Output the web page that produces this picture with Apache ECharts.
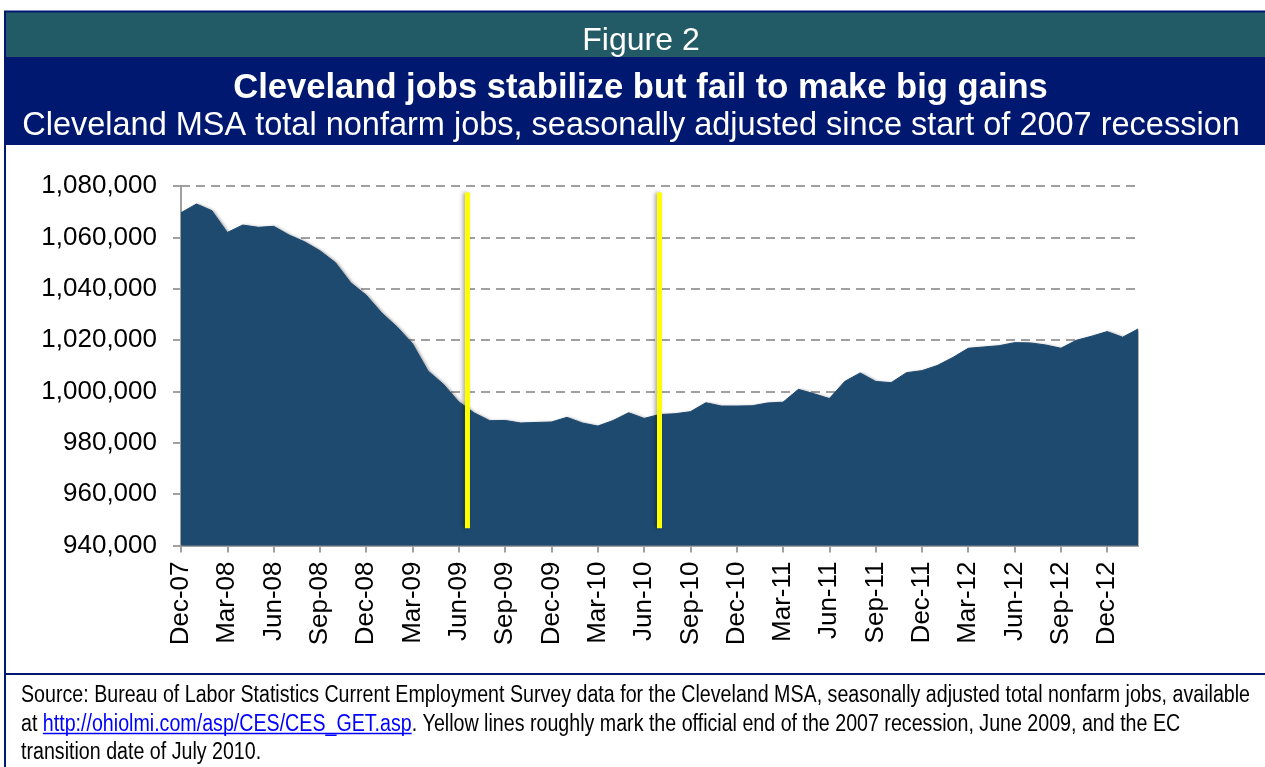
<!DOCTYPE html>
<html>
<head>
<meta charset="utf-8">
<script src="https://cdn.jsdelivr.net/npm/echarts@6/dist/echarts.min.js"></script>
<style>
  html, body { margin: 0; padding: 0; background: #ffffff; }
  #chart { width: 1265px; height: 767px; }
</style>
</head>
<body>
<div id="chart"></div>
<script>
// Month labels, Dec-07 through Feb-13
const months = [
  'Dec-07',
  'Jan-08','Feb-08','Mar-08','Apr-08','May-08','Jun-08','Jul-08','Aug-08','Sep-08','Oct-08','Nov-08','Dec-08',
  'Jan-09','Feb-09','Mar-09','Apr-09','May-09','Jun-09','Jul-09','Aug-09','Sep-09','Oct-09','Nov-09','Dec-09',
  'Jan-10','Feb-10','Mar-10','Apr-10','May-10','Jun-10','Jul-10','Aug-10','Sep-10','Oct-10','Nov-10','Dec-10',
  'Jan-11','Feb-11','Mar-11','Apr-11','May-11','Jun-11','Jul-11','Aug-11','Sep-11','Oct-11','Nov-11','Dec-11',
  'Jan-12','Feb-12','Mar-12','Apr-12','May-12','Jun-12','Jul-12','Aug-12','Sep-12','Oct-12','Nov-12','Dec-12',
  'Jan-13','Feb-13'
];

// Cleveland MSA total nonfarm jobs, seasonally adjusted
const jobs = [
  1069600,
  1073000, 1070400, 1061900, 1064800, 1063900, 1064300, 1060900, 1058300, 1054800, 1050200, 1042300, 1037500,
  1030600, 1025100, 1018600, 1008000, 1002800, 995900, 991600, 988600, 988700, 987700, 987900, 988100,
  989900, 987700, 986500, 988700, 991700, 989500, 991000, 991300, 992100, 995600, 994300, 994300,
  994400, 995500, 995800, 1000800, 999100, 997200, 1003900, 1007200, 1003900, 1003400, 1007300, 1008100,
  1010100, 1013200, 1016800, 1017300, 1017800, 1019000, 1018900, 1018100, 1016800, 1019900, 1021500, 1023300,
  1021100, 1024300
];

// Value axis range and step
const yMin = 940000;
const yMax = 1080000;
const yStep = 20000;

// Yellow markers: end of the 2007 recession (June 2009) and the EC transition (July 2010),
// given as month positions counted from Dec-07, plus their vertical extent in jobs
const markerMonths = [18.56, 31.0];
const markerLow = 946700;
const markerHigh = 1077500;

// Text
const figureLabel = 'Figure 2';
const titleText = 'Cleveland jobs stabilize but fail to make big gains';
const subtitleText = 'Cleveland MSA total nonfarm jobs, seasonally adjusted since start of 2007 recession';
const sourceLine1 = 'Source: Bureau of Labor Statistics Current Employment Survey data for the Cleveland MSA, seasonally adjusted total nonfarm jobs, available';
const sourceLine2a = 'at ';
const sourceLink = 'http://ohiolmi.com/asp/CES/CES_GET.asp';
const sourceLine2b = '. Yellow lines roughly mark the official end of the 2007 recession, June 2009, and the EC';
const sourceLine3 = 'transition date of July 2010.';

const FONT = '"Liberation Sans", Arial, Helvetica, sans-serif';
const NAVY = '#00186F';
const TEAL = '#225A66';
const AREA = '#1F4A70';
const AXIS_GREY = '#A0A0A0';

// Footer is set in a condensed face: measure the regular face and squeeze it horizontally
const measureCtx = document.createElement('canvas').getContext('2d');
function textWidth(str, size) {
  measureCtx.font = size + 'px "Liberation Sans"';
  return measureCtx.measureText(str).width;
}
const footSize = 23;
const footScale = 1229 / textWidth(sourceLine1, footSize);
const linkStart = textWidth(sourceLine2a, footSize);
const linkWidth = textWidth(sourceLink, footSize);

const chart = echarts.init(document.getElementById('chart'), null, { renderer: 'canvas' });

const markerSeries = markerMonths.map(function (m) {
  return {
    type: 'line',
    xAxisIndex: 1,
    symbol: 'none',
    silent: true,
    z: 5,
    lineStyle: {
      color: '#FFFF00',
      width: 5,
      cap: 'butt',
      shadowColor: 'rgba(0,0,0,0.35)',
      shadowBlur: 4,
      shadowOffsetX: -2
    },
    data: [[m, markerLow], [m, markerHigh]]
  };
});

const option = {
  animation: false,
  backgroundColor: '#ffffff',
  grid: { left: 181, right: 127, top: 186, bottom: 221.5, containLabel: false },
  xAxis: [
    {
      type: 'category',
      data: months,
      boundaryGap: false,
      axisLine: { show: true, lineStyle: { color: AXIS_GREY, width: 2 } },
      axisTick: { show: true, interval: 2, length: 7, lineStyle: { color: AXIS_GREY, width: 2 } },
      axisLabel: {
        interval: 2,
        rotate: 90,
        margin: 16,
        color: '#000000',
        fontFamily: FONT,
        fontSize: 26
      },
      splitLine: { show: false }
    },
    {
      type: 'value',
      min: 0,
      max: months.length - 1,
      show: false
    }
  ],
  yAxis: {
    type: 'value',
    min: yMin,
    max: yMax,
    interval: yStep,
    axisLine: { show: true, lineStyle: { color: AXIS_GREY, width: 2 } },
    axisTick: { show: true, length: 8, lineStyle: { color: AXIS_GREY, width: 2 } },
    axisLabel: {
      margin: 24,
      color: '#000000',
      fontFamily: FONT,
      fontSize: 26,
      formatter: function (v) { return v.toLocaleString('en-US'); }
    },
    splitLine: {
      show: true,
      lineStyle: { color: AXIS_GREY, width: 2, type: [9, 6] }
    }
  },
  series: [
    {
      type: 'line',
      data: jobs,
      symbol: 'none',
      silent: true,
      z: 3,
      lineStyle: { color: AREA, width: 1 },
      areaStyle: {
        color: AREA,
        opacity: 1,
        origin: 'start',
        shadowColor: 'rgba(0,0,0,0.35)',
        shadowBlur: 3,
        shadowOffsetX: 2,
        shadowOffsetY: 0
      }
    }
  ].concat(markerSeries),
  graphic: [
    // header bands
    { type: 'rect', shape: { x: 5, y: 12, width: 1262, height: 45 }, style: { fill: TEAL }, z: 1 },
    { type: 'rect', shape: { x: 5, y: 57, width: 1262, height: 88 }, style: { fill: NAVY }, z: 1 },
    // frame: top, left, footer divider
    { type: 'line', shape: { x1: 4, y1: 11.5, x2: 1267, y2: 11.5 }, style: { stroke: NAVY, lineWidth: 2 }, z: 2 },
    { type: 'line', shape: { x1: 5, y1: 11, x2: 5, y2: 767 }, style: { stroke: NAVY, lineWidth: 2 }, z: 2 },
    { type: 'line', shape: { x1: 5, y1: 674, x2: 1267, y2: 674 }, style: { stroke: NAVY, lineWidth: 2 }, z: 2 },
    // header text
    {
      type: 'text', x: 641, y: 41, z: 3,
      style: { text: figureLabel, fill: '#ffffff', font: '32px ' + FONT, textAlign: 'center', textVerticalAlign: 'middle' }
    },
    {
      type: 'text', x: 640.5, y: 88.5, z: 3,
      style: { text: titleText, fill: '#ffffff', font: 'bold 34.6px ' + FONT, textAlign: 'center', textVerticalAlign: 'middle' }
    },
    {
      type: 'text', x: 631, y: 126, z: 3,
      style: { text: subtitleText, fill: '#ffffff', font: '32.5px ' + FONT, textAlign: 'center', textVerticalAlign: 'middle' }
    },
    // source note
    {
      type: 'group', x: 21, y: 0, scaleX: footScale, z: 3,
      children: [
        { type: 'text', x: 0, y: 696, style: { text: sourceLine1, fill: '#000000', font: footSize + 'px ' + FONT, textVerticalAlign: 'middle' } },
        { type: 'text', x: 0, y: 724.3, style: { text: sourceLine2a, fill: '#000000', font: footSize + 'px ' + FONT, textVerticalAlign: 'middle' } },
        { type: 'text', x: linkStart, y: 724.3, style: { text: sourceLink, fill: '#0000FF', font: footSize + 'px ' + FONT, textVerticalAlign: 'middle' } },
        { type: 'line', shape: { x1: linkStart, y1: 733.5, x2: linkStart + linkWidth, y2: 733.5 }, style: { stroke: '#0000FF', lineWidth: 1.3 } },
        { type: 'text', x: linkStart + linkWidth, y: 724.3, style: { text: sourceLine2b, fill: '#000000', font: footSize + 'px ' + FONT, textVerticalAlign: 'middle' } },
        { type: 'text', x: 0, y: 752.6, style: { text: sourceLine3, fill: '#000000', font: footSize + 'px ' + FONT, textVerticalAlign: 'middle' } }
      ]
    }
  ]
};

chart.setOption(option);
</script>
</body>
</html>
